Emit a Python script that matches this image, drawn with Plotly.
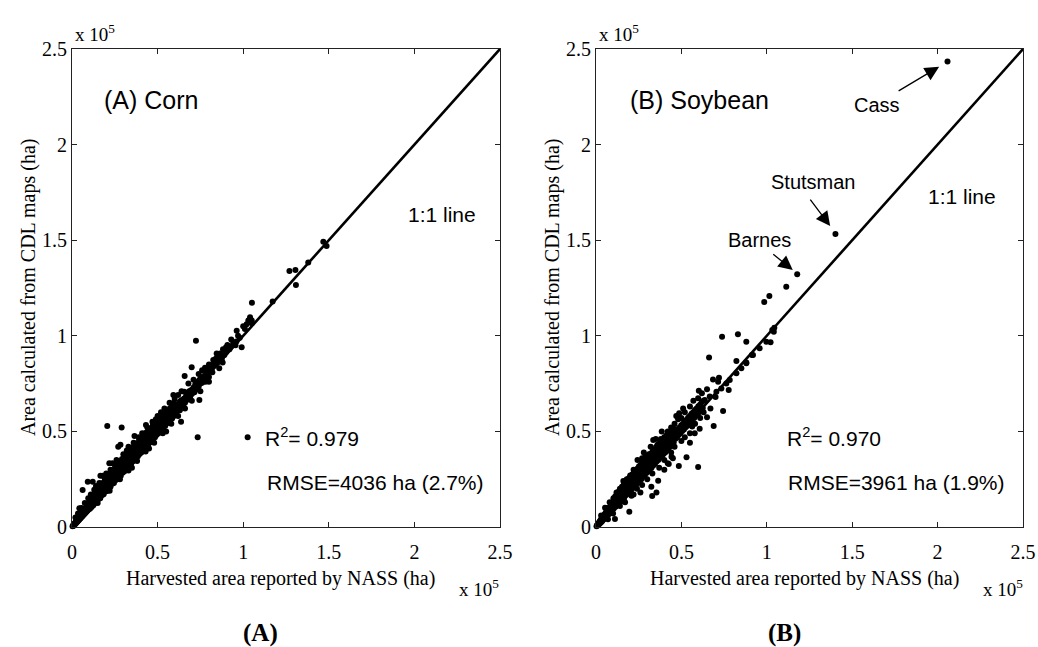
import plotly.graph_objects as go

# ---------------- DATA (units of 10^5 ha) ----------------
tick_vals = [0, 0.5, 1, 1.5, 2, 2.5]
tick_text = ["0", "0.5", "1", "1.5", "2", "2.5"]

corn_nass = [
    0.003, 0.006, 0.008, 0.010, 0.012, 0.014, 0.016, 0.018, 0.020, 0.022,
    0.024, 0.026, 0.028, 0.030, 0.032, 0.034, 0.036, 0.038, 0.040, 0.042,
    0.044, 0.046, 0.048, 0.050, 0.052, 0.054, 0.056, 0.058, 0.060, 0.062,
    0.064, 0.066, 0.068, 0.070, 0.072, 0.074, 0.076, 0.078, 0.080, 0.082,
    0.084, 0.086, 0.088, 0.090, 0.092, 0.094, 0.096, 0.098, 0.100, 0.043,
    0.105, 0.109, 0.102, 0.115, 0.119, 0.112, 0.125, 0.129, 0.122,
    0.135, 0.139, 0.132, 0.145, 0.149, 0.142, 0.155, 0.159, 0.152,
    0.165, 0.169, 0.162, 0.175, 0.179, 0.172, 0.185, 0.189, 0.182,
    0.195, 0.199, 0.192, 0.205, 0.209, 0.202, 0.215, 0.219, 0.212,
    0.225, 0.229, 0.222, 0.235, 0.239, 0.232, 0.245, 0.249, 0.242,
    0.255, 0.259, 0.252, 0.265, 0.269, 0.262, 0.275, 0.279, 0.272,
    0.285, 0.289, 0.282, 0.295, 0.299, 0.292, 0.305, 0.309, 0.302,
    0.315, 0.319, 0.312, 0.325, 0.329, 0.322, 0.335, 0.339, 0.332,
    0.345, 0.349, 0.342, 0.355, 0.359, 0.352, 0.365, 0.369, 0.362,
    0.375, 0.379, 0.372, 0.385, 0.389, 0.382, 0.395, 0.399, 0.392,
    0.405, 0.409, 0.402, 0.415, 0.419, 0.412, 0.425, 0.429, 0.422,
    0.435, 0.439, 0.432, 0.445, 0.449, 0.442, 0.455, 0.459, 0.452,
    0.465, 0.469, 0.462, 0.475, 0.479, 0.472, 0.485, 0.489, 0.482,
    0.495, 0.499, 0.492, 0.505, 0.509, 0.502, 0.515, 0.519, 0.512,
    0.525, 0.529, 0.522, 0.535, 0.539, 0.532, 0.545, 0.549, 0.542,
    0.555, 0.559, 0.552, 0.565, 0.569, 0.562, 0.575, 0.579, 0.572,
    0.585, 0.589, 0.582, 0.595, 0.599, 0.592,
    0.062, 0.092, 0.121, 0.166, 0.180, 0.218, 0.237, 0.270, 0.283, 0.365,
    0.432, 0.490, 0.592, 0.656, 0.592, 0.206, 0.290, 0.350, 0.450, 0.550,
    0.600, 0.610, 0.615, 0.620, 0.630, 0.635, 0.640, 0.650, 0.655, 0.660,
    0.670, 0.675, 0.680, 0.690, 0.695, 0.700, 0.710, 0.715, 0.720, 0.730,
    0.735, 0.740, 0.750, 0.755, 0.760, 0.770, 0.775, 0.780, 0.790, 0.800,
    0.810, 0.820, 0.830, 0.840, 0.850, 0.860, 0.870, 0.890, 0.900, 0.920,
    0.930, 0.960, 0.980, 0.637, 0.744, 0.699, 0.777, 0.658, 0.724, 0.734,
    1.026, 0.825, 0.845, 0.865, 0.875, 0.880, 0.882, 0.908, 0.942, 0.955,
    0.991, 0.962, 1.000, 1.010, 1.020, 1.030, 1.040, 1.050, 1.050, 1.051,
    1.172, 1.308, 1.270, 1.305, 1.380, 1.468, 1.487, 0.800, 0.787, 0.850,
    # upper-edge scatter
    0.020, 0.035, 0.055, 0.075, 0.095, 0.110, 0.130, 0.140, 0.160, 0.190,
    0.200, 0.225, 0.250, 0.260, 0.300, 0.320, 0.330, 0.360, 0.390, 0.410,
    0.440, 0.470, 0.500, 0.520, 0.540, 0.570, 0.600, 0.620, 0.640, 0.680,
    0.710, 0.740, 0.760, 0.800, 0.840, 0.900, 0.930, 0.970,
    # lower-edge scatter
    0.150, 0.220, 0.280, 0.330, 0.380, 0.430, 0.480, 0.530, 0.580, 0.620,
    0.660, 0.700, 0.750, 0.800, 0.860,
    # second row 0.6-0.87
    0.605, 0.625, 0.645, 0.665, 0.685, 0.705, 0.725, 0.745, 0.765, 0.785,
    0.805, 0.825, 0.845, 0.870, 0.610, 0.630, 0.650, 0.670, 0.690, 0.710,
    0.730, 0.750, 0.770, 0.790,
    # fill layer 0.11-0.59
    0.11, 0.11, 0.13, 0.13, 0.15, 0.15, 0.17, 0.17, 0.19, 0.19,
    0.21, 0.21, 0.23, 0.23, 0.25, 0.25, 0.27, 0.27, 0.29, 0.29,
    0.31, 0.31, 0.33, 0.33, 0.35, 0.35, 0.37, 0.37, 0.39, 0.39,
    0.41, 0.41, 0.43, 0.43, 0.45, 0.45, 0.47, 0.47, 0.49, 0.49,
    0.51, 0.51, 0.53, 0.53, 0.55, 0.55, 0.57, 0.57, 0.59, 0.59,
]
corn_cdl = [
    0.004, 0.005, 0.011, 0.012, 0.008, 0.018, 0.013, 0.021, 0.017, 0.027,
    0.021, 0.031, 0.025, 0.036, 0.029, 0.041, 0.033, 0.046, 0.037, 0.050,
    0.041, 0.055, 0.045, 0.060, 0.049, 0.064, 0.052, 0.070, 0.056, 0.075,
    0.060, 0.080, 0.064, 0.086, 0.068, 0.090, 0.072, 0.096, 0.076, 0.101,
    0.080, 0.106, 0.084, 0.104, 0.088, 0.114, 0.092, 0.110, 0.097, 0.098,
    0.095, 0.118, 0.138, 0.104, 0.128, 0.150, 0.114, 0.138, 0.158,
    0.126, 0.146, 0.175, 0.131, 0.161, 0.182, 0.146, 0.168, 0.203,
    0.150, 0.182, 0.206, 0.166, 0.190, 0.228, 0.171, 0.202, 0.230,
    0.186, 0.210, 0.252, 0.188, 0.224, 0.255, 0.206, 0.230, 0.270,
    0.210, 0.247, 0.278, 0.226, 0.252, 0.293, 0.230, 0.265, 0.298,
    0.246, 0.272, 0.315, 0.250, 0.288, 0.318, 0.266, 0.292, 0.338,
    0.268, 0.308, 0.340, 0.284, 0.315, 0.355, 0.290, 0.328, 0.360,
    0.302, 0.335, 0.375, 0.310, 0.348, 0.382, 0.322, 0.355, 0.395,
    0.330, 0.368, 0.400, 0.342, 0.375, 0.415, 0.350, 0.388, 0.418,
    0.362, 0.395, 0.435, 0.370, 0.408, 0.438, 0.382, 0.415, 0.455,
    0.390, 0.428, 0.460, 0.402, 0.435, 0.473, 0.410, 0.448, 0.478,
    0.422, 0.452, 0.493, 0.430, 0.468, 0.496, 0.442, 0.472, 0.513,
    0.450, 0.488, 0.516, 0.462, 0.492, 0.531, 0.470, 0.508, 0.533,
    0.482, 0.512, 0.551, 0.490, 0.525, 0.553, 0.502, 0.532, 0.568,
    0.510, 0.545, 0.570, 0.522, 0.550, 0.588, 0.530, 0.563, 0.588,
    0.542, 0.570, 0.603, 0.548, 0.583, 0.608, 0.562, 0.588, 0.621,
    0.568, 0.603, 0.626, 0.580, 0.606, 0.643,
    0.193, 0.237, 0.237, 0.268, 0.268, 0.333, 0.333, 0.420, 0.430, 0.476,
    0.533, 0.563, 0.690, 0.708, 0.647, 0.528, 0.520, 0.310, 0.410, 0.500,
    0.620, 0.600, 0.640, 0.625, 0.610, 0.660, 0.645, 0.630, 0.672, 0.650,
    0.690, 0.665, 0.700, 0.680, 0.715, 0.695, 0.730, 0.705, 0.745, 0.720,
    0.760, 0.735, 0.750, 0.780, 0.755, 0.790, 0.770, 0.760, 0.800, 0.785,
    0.830, 0.810, 0.845, 0.850, 0.860, 0.875, 0.890, 0.900, 0.915, 0.930,
    0.945, 0.970, 0.990, 0.551, 0.664, 0.835, 0.833, 0.790, 0.974, 0.469,
    0.469, 0.873, 0.908, 0.908, 0.880, 0.860, 0.930, 0.952, 0.964, 0.950,
    0.940, 1.027, 1.050, 1.035, 1.060, 1.080, 1.097, 1.080, 1.065, 1.173,
    1.180, 1.266, 1.339, 1.344, 1.384, 1.492, 1.470, 0.840, 0.820, 0.890,
    # upper-edge scatter
    0.050, 0.070, 0.100, 0.125, 0.150, 0.170, 0.195, 0.215, 0.230, 0.260,
    0.280, 0.300, 0.330, 0.350, 0.380, 0.400, 0.420, 0.440, 0.470, 0.490,
    0.520, 0.550, 0.580, 0.600, 0.620, 0.650, 0.670, 0.690, 0.710, 0.750,
    0.770, 0.800, 0.820, 0.850, 0.880, 0.940, 0.980, 1.000,
    # lower-edge scatter
    0.125, 0.190, 0.250, 0.295, 0.345, 0.395, 0.440, 0.490, 0.540, 0.580,
    0.620, 0.660, 0.710, 0.760, 0.830,
    # second row 0.6-0.87
    0.630, 0.650, 0.665, 0.680, 0.710, 0.720, 0.740, 0.770, 0.780, 0.810,
    0.820, 0.850, 0.870, 0.900, 0.610, 0.635, 0.655, 0.670, 0.700, 0.715,
    0.735, 0.765, 0.775, 0.790,
    # fill layer 0.11-0.59
    0.115, 0.150, 0.133, 0.170, 0.152, 0.190, 0.171, 0.210, 0.190, 0.232,
    0.212, 0.250, 0.230, 0.272, 0.252, 0.290, 0.270, 0.312, 0.291, 0.330,
    0.312, 0.352, 0.331, 0.371, 0.352, 0.392, 0.371, 0.410, 0.392, 0.432,
    0.412, 0.450, 0.432, 0.470, 0.451, 0.490, 0.472, 0.510, 0.490, 0.532,
    0.512, 0.550, 0.531, 0.570, 0.552, 0.590, 0.570, 0.610, 0.592, 0.630,
]

soy_nass = [
    0.003, 0.006, 0.008, 0.010, 0.012, 0.014, 0.016, 0.018, 0.020, 0.022,
    0.024, 0.026, 0.028, 0.030, 0.032, 0.034, 0.036, 0.038, 0.040, 0.042,
    0.044, 0.046, 0.048, 0.050, 0.052, 0.054, 0.056, 0.058, 0.060, 0.062,
    0.064, 0.066, 0.068, 0.070, 0.072, 0.074, 0.076, 0.078, 0.080, 0.082,
    0.084, 0.086, 0.088, 0.090, 0.092, 0.094, 0.096, 0.098, 0.100, 0.053,
    0.105, 0.109, 0.102, 0.115, 0.119, 0.112, 0.125, 0.129, 0.122,
    0.135, 0.139, 0.132, 0.145, 0.149, 0.142, 0.155, 0.159, 0.152,
    0.165, 0.169, 0.162, 0.175, 0.179, 0.172, 0.185, 0.189, 0.182,
    0.195, 0.199, 0.192, 0.205, 0.209, 0.202, 0.215, 0.219, 0.212,
    0.225, 0.229, 0.222, 0.235, 0.239, 0.232, 0.245, 0.249, 0.242,
    0.255, 0.259, 0.252, 0.265, 0.269, 0.262, 0.275, 0.279, 0.272,
    0.285, 0.289, 0.282, 0.295, 0.299, 0.292, 0.305, 0.309, 0.302,
    0.315, 0.319, 0.312, 0.325, 0.329, 0.322, 0.335, 0.339, 0.332,
    0.345, 0.349, 0.342, 0.355, 0.359, 0.352, 0.365, 0.369, 0.362,
    0.375, 0.379, 0.372, 0.385, 0.389, 0.382, 0.395, 0.399, 0.392,
    0.405, 0.409, 0.402, 0.415, 0.419, 0.412, 0.425, 0.429, 0.422,
    0.435, 0.439, 0.432, 0.445, 0.449, 0.442, 0.455, 0.459, 0.452,
    0.465, 0.469, 0.475, 0.479, 0.485, 0.489, 0.495, 0.499, 0.505, 0.509,
    0.515, 0.519, 0.525, 0.529, 0.535, 0.539, 0.545, 0.549, 0.555, 0.559,
    0.565, 0.569, 0.575, 0.579, 0.585, 0.589, 0.595, 0.599, 0.605, 0.609,
    0.615, 0.619, 0.625, 0.629,
    0.111, 0.195, 0.169, 0.208, 0.243, 0.329, 0.354, 0.364, 0.324, 0.426,
    0.442, 0.485, 0.530, 0.598, 0.335, 0.385, 0.481, 0.487, 0.563, 0.578,
    0.598, 0.650, 0.689, 0.744, 0.607, 0.602, 0.662, 0.685, 0.715, 0.720,
    0.777, 0.822, 0.880, 0.913, 0.738, 0.831, 0.880, 1.022, 1.041, 1.044,
    0.637, 0.666, 0.705, 0.734, 0.763, 0.783, 0.822, 0.851, 0.880, 0.919,
    0.958, 0.997, 0.985, 1.015, 1.114, 1.178, 1.402, 2.058, 1.032, 0.420,
    # upper scatter
    0.030, 0.060, 0.080, 0.120, 0.140, 0.160, 0.180, 0.200, 0.220, 0.250,
    0.270, 0.290, 0.310, 0.320, 0.360, 0.380, 0.400, 0.420, 0.440, 0.460,
    0.500, 0.520, 0.550, 0.570, 0.620, 0.650, 0.470, 0.350, 0.280, 0.510,
    # lower scatter
    0.070, 0.100, 0.140, 0.170, 0.220, 0.240, 0.270, 0.300, 0.330, 0.370,
    0.400, 0.440, 0.460, 0.500, 0.520, 0.550, 0.580, 0.610, 0.630, 0.400,
    0.450, 0.260, 0.550, 0.670, 0.700,
    # fill layer 0.11-0.45
    0.11, 0.11, 0.13, 0.13, 0.15, 0.15, 0.17, 0.17, 0.19, 0.19,
    0.21, 0.21, 0.23, 0.23, 0.25, 0.25, 0.27, 0.27, 0.29, 0.29,
    0.31, 0.31, 0.33, 0.33, 0.35, 0.35, 0.37, 0.37, 0.39, 0.39,
    0.41, 0.41, 0.43, 0.43, 0.45, 0.45,
]
soy_cdl = [
    0.004, 0.009, 0.006, 0.014, 0.010, 0.019, 0.013, 0.024, 0.017, 0.030,
    0.021, 0.034, 0.024, 0.040, 0.028, 0.045, 0.032, 0.050, 0.036, 0.055,
    0.040, 0.060, 0.043, 0.066, 0.047, 0.070, 0.051, 0.076, 0.055, 0.080,
    0.059, 0.086, 0.062, 0.090, 0.066, 0.096, 0.070, 0.100, 0.074, 0.106,
    0.078, 0.110, 0.082, 0.116, 0.086, 0.120, 0.090, 0.125, 0.094, 0.101,
    0.098, 0.125, 0.150, 0.106, 0.136, 0.160, 0.116, 0.146, 0.172,
    0.126, 0.158, 0.185, 0.134, 0.168, 0.196, 0.146, 0.178, 0.210,
    0.152, 0.190, 0.220, 0.166, 0.200, 0.232, 0.172, 0.212, 0.240,
    0.186, 0.220, 0.255, 0.190, 0.232, 0.262, 0.204, 0.242, 0.275,
    0.212, 0.252, 0.285, 0.224, 0.262, 0.298, 0.232, 0.272, 0.305,
    0.244, 0.282, 0.318, 0.250, 0.292, 0.325, 0.264, 0.300, 0.338,
    0.270, 0.312, 0.345, 0.282, 0.320, 0.358, 0.290, 0.332, 0.365,
    0.302, 0.340, 0.378, 0.310, 0.352, 0.385, 0.322, 0.360, 0.398,
    0.330, 0.372, 0.405, 0.342, 0.380, 0.418, 0.350, 0.392, 0.425,
    0.362, 0.400, 0.438, 0.370, 0.412, 0.445, 0.382, 0.420, 0.458,
    0.390, 0.432, 0.465, 0.402, 0.440, 0.478, 0.410, 0.452, 0.485,
    0.422, 0.460, 0.498, 0.430, 0.472, 0.505, 0.442, 0.480, 0.518,
    0.462, 0.500, 0.470, 0.512, 0.482, 0.520, 0.490, 0.532, 0.502, 0.540,
    0.510, 0.552, 0.522, 0.560, 0.530, 0.572, 0.542, 0.580, 0.550, 0.592,
    0.562, 0.600, 0.570, 0.612, 0.582, 0.620, 0.590, 0.632, 0.602, 0.640,
    0.610, 0.652, 0.622, 0.660,
    0.042, 0.080, 0.225, 0.164, 0.350, 0.162, 0.181, 0.242, 0.210, 0.330,
    0.368, 0.319, 0.365, 0.314, 0.455, 0.499, 0.563, 0.595, 0.525, 0.490,
    0.673, 0.574, 0.528, 0.607, 0.514, 0.713, 0.886, 0.772, 0.760, 0.780,
    0.717, 0.868, 0.860, 0.900, 0.995, 1.008, 0.969, 0.966, 1.021, 1.042,
    0.664, 0.682, 0.708, 0.725, 0.751, 0.769, 0.804, 0.830, 0.856, 0.900,
    0.935, 0.969, 1.177, 1.208, 1.257, 1.322, 1.532, 2.434, 1.030, 0.333,
    # upper scatter
    0.060, 0.100, 0.130, 0.180, 0.200, 0.240, 0.250, 0.270, 0.300, 0.310,
    0.360, 0.370, 0.380, 0.420, 0.430, 0.460, 0.470, 0.500, 0.520, 0.540,
    0.570, 0.600, 0.630, 0.660, 0.700, 0.720, 0.580, 0.460, 0.390, 0.620,
    # lower scatter
    0.040, 0.070, 0.110, 0.130, 0.170, 0.200, 0.220, 0.250, 0.280, 0.310,
    0.350, 0.390, 0.420, 0.450, 0.470, 0.490, 0.540, 0.570, 0.600, 0.300,
    0.360, 0.180, 0.440, 0.620, 0.680,
    # fill layer 0.11-0.45
    0.118, 0.142, 0.136, 0.165, 0.158, 0.184, 0.176, 0.205, 0.197, 0.226,
    0.216, 0.246, 0.238, 0.266, 0.256, 0.288, 0.278, 0.306, 0.296, 0.328,
    0.318, 0.346, 0.336, 0.368, 0.358, 0.386, 0.376, 0.408, 0.398, 0.426,
    0.416, 0.448, 0.438, 0.466, 0.456, 0.488,
]

one_to_one = [0, 2.5]

SERIF = "Liberation Serif"
SANS = "Liberation Sans"

fig = go.Figure()

for xs, ys, xa, ya in [(corn_nass, corn_cdl, "x", "y"), (soy_nass, soy_cdl, "x2", "y2")]:
    fig.add_trace(go.Scatter(x=one_to_one, y=one_to_one, mode="lines",
                             line=dict(color="black", width=2.6),
                             xaxis=xa, yaxis=ya, showlegend=False, hoverinfo="skip"))
    fig.add_trace(go.Scatter(x=xs, y=ys, mode="markers",
                             marker=dict(color="black", size=6, line=dict(width=0)),
                             xaxis=xa, yaxis=ya, showlegend=False, cliponaxis=False))

# body margin is removed by a post script, so the figure fills the window exactly
W, H = 1038, 647
def px(x):
    return x / W
def py(y):
    return 1 - y / H

axis_common = dict(range=[0, 2.5], tickvals=tick_vals, ticktext=tick_text,
                   ticks="inside", ticklen=5, tickcolor="#222", tickwidth=1,
                   showline=True, linecolor="#222", linewidth=1, mirror="ticks",
                   showgrid=False, zeroline=False, automargin=False,
                   ticklabeloverflow="allow",
                   tickfont=dict(family=SERIF, size=20, color="black"))
xaxis_extra = dict(ticklabelstandoff=7)

fig.update_layout(
    width=W, height=H, margin=dict(l=0, r=0, t=0, b=0, autoexpand=False),
    paper_bgcolor="white", plot_bgcolor="white",
    xaxis=dict(domain=[px(72), px(500)], anchor="y", **axis_common, **xaxis_extra),
    yaxis=dict(domain=[py(527), py(49)], anchor="x", **axis_common),
    xaxis2=dict(domain=[px(596), px(1023)], anchor="y2", **axis_common, **xaxis_extra),
    yaxis2=dict(domain=[py(527), py(49)], anchor="x2", **axis_common),
)

ann = []
def txt(text, x, y, xref, yref, size, family, xanchor="center", yanchor="middle", angle=0):
    ann.append(dict(text=text, x=x, y=y, xref=xref, yref=yref, showarrow=False,
                    font=dict(family=family, size=size, color="black"),
                    xanchor=xanchor, yanchor=yanchor, textangle=angle))

# panel A texts
txt("(A) Corn", 0.461, 2.233, "x", "y", 25, SANS)
txt("1:1 line", 2.161, 1.632, "x", "y", 21, SANS)
txt("R<sup>2</sup>= 0.979", 1.116, 0.471, "x", "y", 21, SANS, xanchor="left")
txt("RMSE=4036 ha (2.7%)", 1.127, 0.235, "x", "y", 21, SANS, xanchor="left")
# panel B texts
txt("(B) Soybean", 0.607, 2.233, "x2", "y2", 25, SANS)
txt("1:1 line", 2.143, 1.727, "x2", "y2", 21, SANS)
txt("R<sup>2</sup>= 0.970", 1.104, 0.471, "x2", "y2", 21, SANS, xanchor="left")
txt("RMSE=3961 ha (1.9%)", 1.115, 0.235, "x2", "y2", 21, SANS, xanchor="left")
txt("Cass", 1.647, 2.207, "x2", "y2", 20, SANS)
txt("Stutsman", 1.273, 1.806, "x2", "y2", 20, SANS)
txt("Barnes", 0.958, 1.501, "x2", "y2", 20, SANS)

# axis titles and multipliers
for x0, letter in [(72, "A"), (596, "B")]:
    txt("Area calculated from CDL maps (ha)", px(x0 - 44), py(288), "paper", "paper", 20, SERIF, angle=-90)
    txt("Harvested area reported by NASS (ha)", px(x0 + 208), py(578), "paper", "paper", 20, SERIF)
    txt("x 10<sup>5</sup>", px(x0 + 1), py(47), "paper", "paper", 19, SERIF, xanchor="left", yanchor="bottom")
    txt("x 10<sup>5</sup>", px(x0 + 385), py(602), "paper", "paper", 19, SERIF, xanchor="left", yanchor="bottom")
    txt("<b>(%s)</b>" % letter, px(x0 + 188), py(633), "paper", "paper", 25, SERIF)

# arrows (soybean labels)
for hx, hy, axo, ayo in [(2.009, 2.407, -42, 25), (1.371, 1.574, -21, -28), (1.152, 1.344, -21, -17)]:
    ann.append(dict(x=hx, y=hy, xref="x2", yref="y2", ax=axo, ay=ayo, text="",
                    showarrow=True, arrowhead=2, arrowsize=2.2, arrowwidth=1.3,
                    arrowcolor="black"))

fig.update_layout(annotations=ann)
fig.write_html("out.html",
               config={"displayModeBar": False},
               post_script="document.body.style.margin='0';document.body.style.overflow='hidden';")
